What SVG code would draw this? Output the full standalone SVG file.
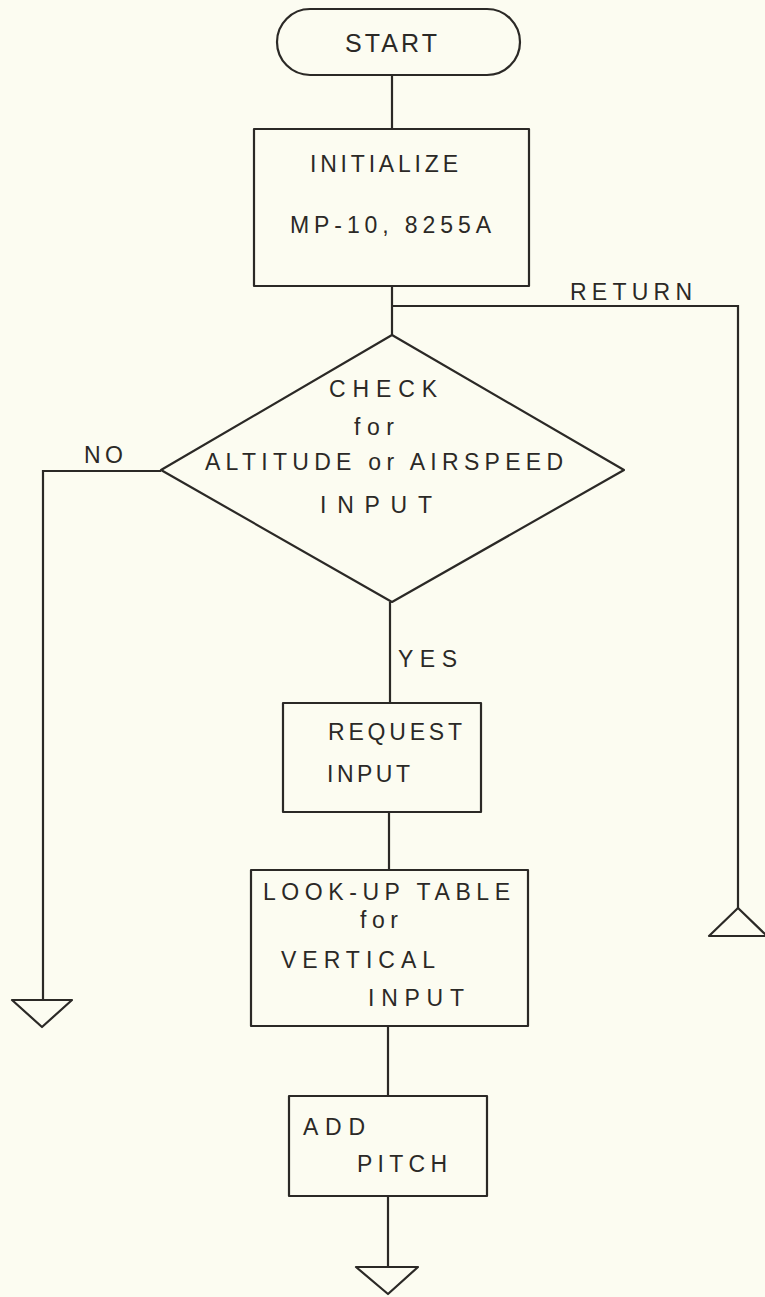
<svg xmlns="http://www.w3.org/2000/svg" width="765" height="1297" viewBox="0 0 765 1297">
  <style>
    .bg { fill: #fcfcf1; }
    .shape { fill: none; stroke: #2b2926; stroke-width: 2.2; stroke-linejoin: round; }
    .wire { fill: none; stroke: #2b2926; stroke-width: 2.2; stroke-linejoin: miter; }
    .lbl { font-family: "Liberation Sans", Arial, sans-serif; font-size: 23px; fill: #2b2926; }
    .big { font-size: 25px; }
  </style>
  <rect class="bg" x="0" y="0" width="765" height="1297"/>

  <!-- flow lines between the blocks -->
  <g id="connectors">
    <line class="wire" x1="392" y1="75" x2="392" y2="129"/>
    <line class="wire" x1="392" y1="286" x2="392" y2="335"/>
    <!-- return path into the decision -->
    <polyline class="wire" points="392,306 738,306 738,908"/>
    <!-- NO branch -->
    <polyline class="wire" points="161,471 43,471 43,1000"/>
    <!-- YES branch -->
    <line class="wire" x1="390" y1="602" x2="390" y2="703"/>
    <line class="wire" x1="389" y1="812" x2="389" y2="870"/>
    <line class="wire" x1="388" y1="1026" x2="388" y2="1096"/>
    <line class="wire" x1="388" y1="1196" x2="388" y2="1267"/>
    <text class="lbl" x="570" y="300" textLength="122" lengthAdjust="spacing">RETURN</text>
    <text class="lbl" x="84" y="463" textLength="39" lengthAdjust="spacing">NO</text>
    <text class="lbl" x="398" y="667" textLength="59" lengthAdjust="spacing">YES</text>
  </g>

  <g id="start">
    <rect class="shape" x="277" y="9" width="243" height="66" rx="33" ry="33"/>
    <text class="lbl big" x="345" y="52" textLength="92" lengthAdjust="spacing">START</text>
  </g>

  <g id="initialize">
    <rect class="shape" x="254" y="129" width="275" height="157"/>
    <text class="lbl" x="310" y="172" textLength="148" lengthAdjust="spacing">INITIALIZE</text>
    <text class="lbl" x="290" y="233" textLength="201" lengthAdjust="spacing">MP-10, 8255A</text>
  </g>

  <g id="check-input">
    <polygon class="shape" points="392,335 624,470 392,602 161,470"/>
    <text class="lbl" x="329" y="397" textLength="108" lengthAdjust="spacing">CHECK</text>
    <text class="lbl" x="354" y="435" textLength="40" lengthAdjust="spacing">for</text>
    <text class="lbl" x="205" y="470" textLength="358" lengthAdjust="spacing">ALTITUDE or AIRSPEED</text>
    <text class="lbl" x="320" y="513" textLength="112" lengthAdjust="spacing">INPUT</text>
  </g>

  <g id="request-input">
    <rect class="shape" x="283" y="703" width="198" height="109"/>
    <text class="lbl" x="328" y="740" textLength="134" lengthAdjust="spacing">REQUEST</text>
    <text class="lbl" x="327" y="782" textLength="83" lengthAdjust="spacing">INPUT</text>
  </g>

  <g id="lookup-table">
    <rect class="shape" x="251" y="870" width="277" height="156"/>
    <text class="lbl" x="263" y="900" textLength="247" lengthAdjust="spacing">LOOK-UP TABLE</text>
    <text class="lbl" x="360" y="928" textLength="38" lengthAdjust="spacing">for</text>
    <text class="lbl" x="281" y="968" textLength="154" lengthAdjust="spacing">VERTICAL</text>
    <text class="lbl" x="368" y="1006" textLength="96" lengthAdjust="spacing">INPUT</text>
  </g>

  <g id="add-pitch">
    <rect class="shape" x="289" y="1096" width="198" height="100"/>
    <text class="lbl" x="303" y="1135" textLength="62" lengthAdjust="spacing">ADD</text>
    <text class="lbl" x="357" y="1172" textLength="90" lengthAdjust="spacing">PITCH</text>
  </g>

  <!-- off-page connectors -->
  <g id="return-entry">
    <polygon class="shape" points="738,908 767,936 709,936"/>
  </g>
  <g id="no-exit">
    <polygon class="shape" points="12,1000 72,1000 42,1027"/>
  </g>
  <g id="continue-exit">
    <polygon class="shape" points="356,1267 418,1267 388,1294"/>
  </g>
</svg>
